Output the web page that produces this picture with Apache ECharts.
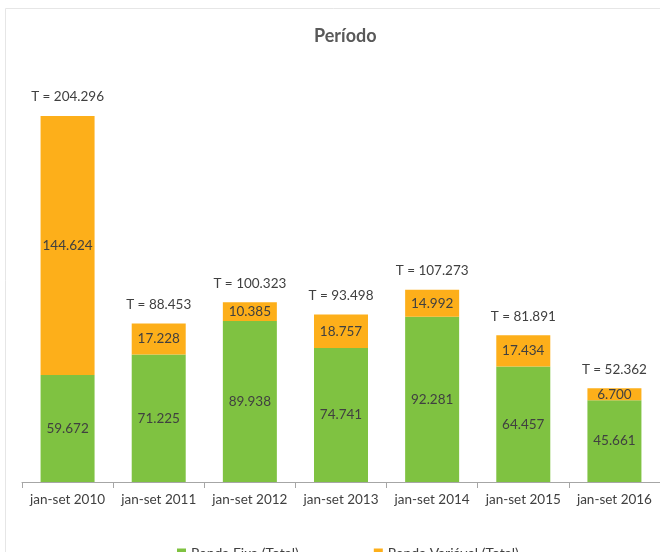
<!DOCTYPE html>
<html>
<head>
<meta charset="utf-8">
<script src="https://cdn.jsdelivr.net/npm/echarts@6/dist/echarts.min.js"></script>
<style>
html,body{margin:0;padding:0;background:#fff;}
#c{width:660px;height:552px;}
</style>
</head>
<body>
<div id="c"></div>
<script>
const categories = ['jan-set 2010','jan-set 2011','jan-set 2012','jan-set 2013','jan-set 2014','jan-set 2015','jan-set 2016'];
const rendaFixa = [59.672, 71.225, 89.938, 74.741, 92.281, 64.457, 45.661];
const rendaVariavel = [144.624, 17.228, 10.385, 18.757, 14.992, 17.434, 6.700];
const totals = [204.296, 88.453, 100.323, 93.498, 107.273, 81.891, 52.362];

const FONT = 'Lato, "Open Sans", sans-serif';
const chart = echarts.init(document.getElementById('c'), null, {renderer:'canvas'});
chart.setOption({
  animation:false,
  backgroundColor:'#fff',
  textStyle:{fontFamily:FONT},
  graphic:[{type:'rect', shape:{x:5.5,y:8.5,width:700,height:600}, style:{fill:'none', stroke:'#e6e6e6', lineWidth:1}, silent:true}],
  title:{text:'Período', left:309, top:22, textStyle:{fontFamily:FONT, fontSize:18, fontWeight:'bold', color:'#595959'}},
  legend:{data:['Renda Fixa (Total)','Renda Variável (Total)'], left:172, top:541, itemWidth:9, itemHeight:9, itemGap:75, icon:'rect',
    textStyle:{fontFamily:FONT, fontSize:14, color:'#404040'}},
  grid:{left:22, width:641, top:70, height:412},
  xAxis:{type:'category', data:categories,
    axisLine:{lineStyle:{color:'#a6a6a6'}},
    axisTick:{show:true, length:6, lineStyle:{color:'#a6a6a6'}},
    axisLabel:{fontFamily:FONT, fontSize:13.5, color:'#404040', margin:11, interval:0}},
  yAxis:{type:'value', min:0, max:230, show:false, splitLine:{show:false}},
  series:[
    {name:'Renda Fixa (Total)', type:'bar', stack:'t', barWidth:54, data:rendaFixa,
      itemStyle:{color:'#7FC241'},
      label:{show:true, position:'inside', fontFamily:FONT, fontSize:13.5, color:'#404040', formatter:p=>p.value.toFixed(3)}},
    {name:'Renda Variável (Total)', type:'bar', stack:'t', barWidth:54, data:rendaVariavel,
      itemStyle:{color:'#FDAF1A'},
      label:{show:true, position:'inside', fontFamily:FONT, fontSize:13.5, color:'#404040', formatter:p=>p.value.toFixed(3)}},
    {name:'Total', type:'bar', stack:'t', barWidth:54, data:totals.map(()=>0),
      itemStyle:{color:'transparent'},
      label:{show:true, position:'top', distance:12, fontFamily:FONT, fontSize:13.5, color:'#404040', formatter:p=>'T = ' + totals[p.dataIndex].toFixed(3)}}
  ]
});
</script>
</body>
</html>
